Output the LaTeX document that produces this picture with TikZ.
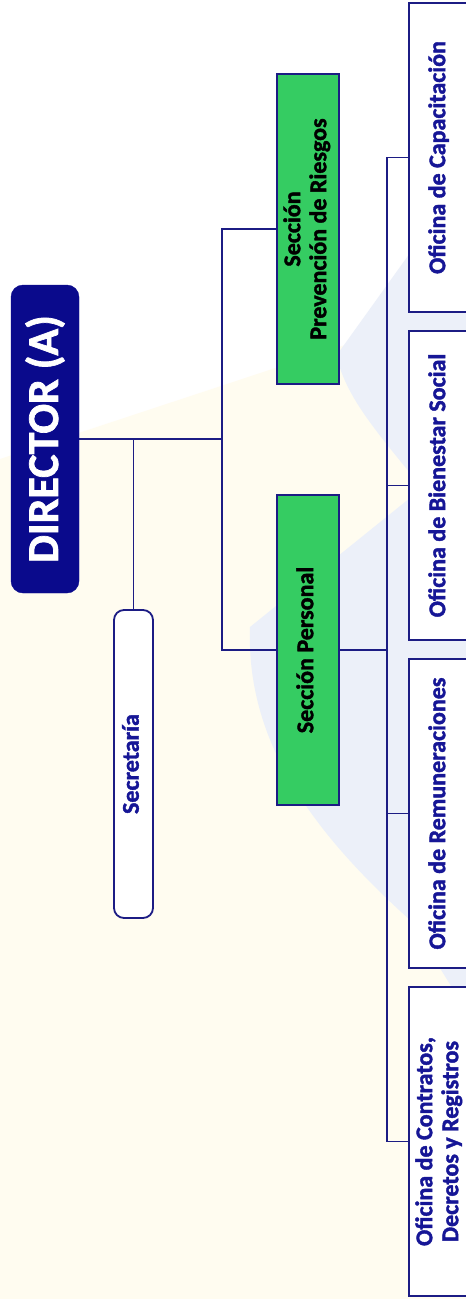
\documentclass[tikz,border=0pt]{standalone}
\usepackage{fontspec}
\setmainfont{Carlito}[BoldFeatures={FakeBold=1.6}]
\usepackage{tikz}
\usetikzlibrary{positioning}
\definecolor{navy}{RGB}{10,10,140}
\definecolor{navyline}{RGB}{28,28,132}
\definecolor{navytext}{RGB}{22,22,150}
\definecolor{sgreen}{RGB}{53,204,98}
\definecolor{cream}{RGB}{255,252,240}
\definecolor{paleblue}{RGB}{236,240,249}
\tikzstyle{director}=[draw=navy, fill=navy, rounded corners=12pt, text=white, minimum width=68pt, minimum height=308pt, inner sep=0pt]
\tikzstyle{secre}=[draw=navyline, fill=white, line width=1.8pt, rounded corners=10pt, text=navytext, minimum width=39pt, minimum height=308pt, inner sep=0pt]
\tikzstyle{seccion}=[draw=navyline, fill=sgreen, line width=2pt, text=black, minimum width=62pt, minimum height=310pt, inner sep=0pt]
\tikzstyle{oficina}=[draw=navyline, fill=white, line width=2pt, text=navytext, minimum width=62pt, minimum height=309pt, inner sep=0pt]
\tikzstyle{link}=[draw=navyline, line width=1.6pt]
\newcommand{\vtext}[1]{
  \rotatebox{90}{\fontsize{24}{26}\selectfont\bfseries
    \begin{tabular}{@{}c@{}}#1\end{tabular}}
}

\begin{document}
\begin{tikzpicture}[x=1pt, y=-1pt]
    \useasboundingbox (0,0) rectangle (466,1299);
    % background
    \fill[white] (0,0) rectangle (466,1299);
    \fill[cream] (0,459) -- (466,305) -- (466,1299) -- (0,1299) -- cycle;
    \fill[paleblue] (339,352) -- (410,253) -- (466,215) -- (466,540) -- (410,473)
      .. controls (375,430) and (350,400) .. (339,365) -- cycle;
    \fill[paleblue] (250,627) -- (410,498) -- (466,455) -- (466,1010) -- (410,920)
      .. controls (310,830) and (246,740) .. (250,627) -- cycle;
    % nodes
    \node[director] (dir) at (45,439) {\rotatebox{90}{\fontsize{44}{48}\selectfont\bfseries DIRECTOR (A)}};
    \node[secre] (sec) at (133.5,764) {\vtext{Secretaría}};
    \node[seccion] (prev) at (308,229) {\vtext{Sección\\Prevención de Riesgos}};
    \node[seccion] (pers) at (308,650) {\vtext{Sección Personal}};
    \node[oficina] (cap) at (440,157.5) {\vtext{Oficina de Capacitación}};
    \node[oficina] (bien) at (440,485.5) {\vtext{Oficina de Bienestar Social}};
    \node[oficina] (rem) at (440,813.5) {\vtext{Oficina de Remuneraciones}};
    \node[oficina] (contr) at (440,1141.5) {\vtext{Oficina de Contratos,\\Decretos y Registros}};
    % connectors
    \coordinate (busA) at (222,439);
    \coordinate (busB) at (387,650);
    \draw[link] (dir.east) -- (busA);
    \draw[link] (sec.north |- dir.east) -- (sec.north);
    \draw[link] (prev.west) -| (busA) |- (pers.west);
    \draw[link] (pers.east) -- (busB);
    \foreach \o in {cap,bien,rem,contr}
      \draw[link] (busB) |- (\o.west);
\end{tikzpicture}
\end{document}
